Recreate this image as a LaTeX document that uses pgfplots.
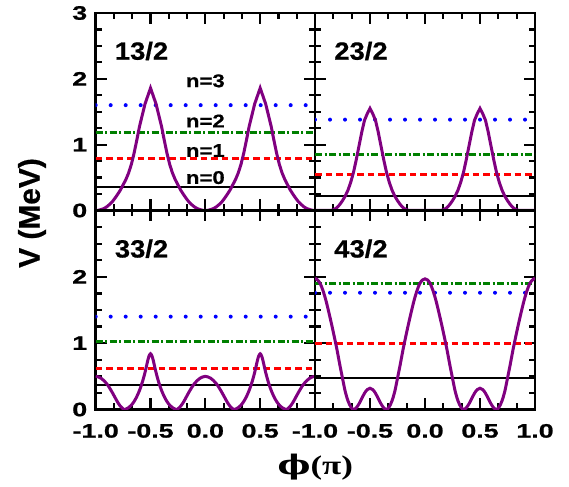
\documentclass[border=0pt]{standalone}
\usepackage{fontspec}
\setmainfont{Liberation Sans}
\newfontfamily\tickfont[FakeStretch=1.38,FakeBold=1]{Liberation Sans}
\newfontfamily\labfont[FakeBold=0.6]{Liberation Sans}
\newfontfamily\serifb{Liberation Serif}
\newfontfamily\dvserif{DejaVu Serif}
\usepackage{pgfplots}
\pgfplotsset{compat=1.18}
\definecolor{vpurple}{RGB}{128,0,128}
\definecolor{vgreen}{RGB}{0,128,0}
\definecolor{vred}{RGB}{255,0,0}
\definecolor{vblue}{RGB}{0,0,255}
\pgfplotsset{
 panel/.style={
  scale only axis, xmin=-1, xmax=1, ymin=0, ymax=3,
  axis line style={line width=2.6bp},
  tick style={line width=2.2bp, black},
  major tick length=11bp, minor tick length=6bp,
  tick align=inside, xtick pos=both, ytick pos=both,
  xtick={-1,-0.5,0,0.5,1}, ytick={0,1,2,3},
  minor x tick num=2, minor y tick num=3,
  tick label style={font=\tickfont\bfseries\fontsize{19.5}{19.5}\selectfont},
  yticklabel style={xshift=-5bp},
  xticklabel style={yshift=-11bp},
 },
 n0/.style={black, line width=2.2bp},
 n1/.style={vred, line width=3bp, dash pattern=on 6.5bp off 4bp},
 n2/.style={vgreen, line width=2.8bp, dash pattern=on 7bp off 2.5bp on 2bp off 2.5bp},
 n3/.style={vblue, line width=4bp, line cap=round, dash pattern=on 0bp off 15bp},
 pot/.style={vpurple, line width=3bp},
}
\newcommand{\plab}[1]{\node at (rel axis cs:0.209,0.808) {\labfont\bfseries\fontsize{25}{25}\selectfont\scalebox{1.1}[1]{#1}};}
\newcommand{\nlab}[2]{\node at (axis cs:0,#1) {\labfont\bfseries\fontsize{18.5}{18.5}\selectfont\scalebox{1.2}[1]{#2}};}
\begin{document}
\begin{tikzpicture}
\path[use as bounding box] (0,0) rectangle (569bp,487bp);
% top left 13/2
\begin{axis}[panel, at={(95.7bp,276.5bp)}, anchor=south west, width=219.3bp, height=197.5bp,
  xticklabels={}, yticklabels={0,1,2,3}]
\addplot[n0] coordinates {(-1,0.36) (1,0.36)};
\addplot[n1] coordinates {(-1,0.79) (1,0.79)};
\addplot[n2] coordinates {(-1,1.19) (1,1.19)};
\addplot[n3] coordinates {(-1,1.60) (1,1.60)};
\addplot[pot] coordinates {
(-1,0) (-0.975,0.004) (-0.95,0.015) (-0.925,0.03) (-0.9,0.055) (-0.875,0.09) (-0.85,0.13) (-0.825,0.185) (-0.8,0.245) (-0.775,0.31) (-0.75,0.39) (-0.725,0.47) (-0.7,0.57) (-0.675,0.70) (-0.65,0.87) (-0.625,1.07) (-0.6,1.28) (-0.575,1.45) (-0.55,1.62) (-0.525,1.74) (-0.5,1.86)
(-0.475,1.74) (-0.45,1.62) (-0.425,1.45) (-0.4,1.28) (-0.375,1.07) (-0.35,0.87) (-0.325,0.70) (-0.3,0.57) (-0.275,0.47) (-0.25,0.39) (-0.225,0.31) (-0.2,0.245) (-0.175,0.185) (-0.15,0.13) (-0.125,0.09) (-0.1,0.055) (-0.075,0.03) (-0.05,0.015) (-0.025,0.004) (0,0)
(0.025,0.004) (0.05,0.015) (0.075,0.03) (0.1,0.055) (0.125,0.09) (0.15,0.13) (0.175,0.185) (0.2,0.245) (0.225,0.31) (0.25,0.39) (0.275,0.47) (0.3,0.57) (0.325,0.70) (0.35,0.87) (0.375,1.07) (0.4,1.28) (0.425,1.45) (0.45,1.62) (0.475,1.74) (0.5,1.86)
(0.525,1.74) (0.55,1.62) (0.575,1.45) (0.6,1.28) (0.625,1.07) (0.65,0.87) (0.675,0.70) (0.7,0.57) (0.725,0.47) (0.75,0.39) (0.775,0.31) (0.8,0.245) (0.825,0.185) (0.85,0.13) (0.875,0.09) (0.9,0.055) (0.925,0.03) (0.95,0.015) (0.975,0.004) (1,0)};
\plab{13/2}
\nlab{1.97}{n=3}
\nlab{1.36}{n=2}
\nlab{0.91}{n=1}
\nlab{0.50}{n=0}
\end{axis}
% top right 23/2
\begin{axis}[panel, at={(315bp,276.5bp)}, anchor=south west, width=220bp, height=197.5bp,
  xticklabels={}, yticklabels={}]
\addplot[n0] coordinates {(-1,0.22) (1,0.22)};
\addplot[n1] coordinates {(-1,0.55) (1,0.55)};
\addplot[n2] coordinates {(-1,0.85) (1,0.85)};
\addplot[n3] coordinates {(-1,1.38) (1,1.38)};
\addplot[pot] coordinates {
(-1,0) (-0.875,0) (-0.85,0.003) (-0.825,0.015) (-0.8,0.045) (-0.775,0.09) (-0.75,0.15) (-0.725,0.22) (-0.7,0.31) (-0.675,0.43) (-0.65,0.58) (-0.625,0.77) (-0.6,0.98) (-0.575,1.19) (-0.55,1.37) (-0.525,1.47) (-0.5,1.55)
(-0.475,1.47) (-0.45,1.37) (-0.425,1.19) (-0.4,0.98) (-0.375,0.77) (-0.35,0.58) (-0.325,0.43) (-0.3,0.31) (-0.275,0.22) (-0.25,0.15) (-0.225,0.09) (-0.2,0.045) (-0.175,0.015) (-0.15,0.003) (-0.125,0)
(0.125,0) (0.15,0.003) (0.175,0.015) (0.2,0.045) (0.225,0.09) (0.25,0.15) (0.275,0.22) (0.3,0.31) (0.325,0.43) (0.35,0.58) (0.375,0.77) (0.4,0.98) (0.425,1.19) (0.45,1.37) (0.475,1.47) (0.5,1.55)
(0.525,1.47) (0.55,1.37) (0.575,1.19) (0.6,0.98) (0.625,0.77) (0.65,0.58) (0.675,0.43) (0.7,0.31) (0.725,0.22) (0.75,0.15) (0.775,0.09) (0.8,0.045) (0.825,0.015) (0.85,0.003) (0.875,0) (1,0)};
\plab{23/2}
\end{axis}
% bottom left 33/2
\begin{axis}[panel, at={(95.7bp,77.5bp)}, anchor=south west, width=219.3bp, height=199bp,
  xticklabels={-1.0,-0.5,0.0,0.5,{}}, yticklabels={0,1,2,{}}]
\addplot[n0] coordinates {(-1,0.37) (1,0.37)};
\addplot[n1] coordinates {(-1,0.62) (1,0.62)};
\addplot[n2] coordinates {(-1,1.02) (1,1.02)};
\addplot[n3] coordinates {(-1,1.40) (1,1.40)};
\addplot[pot, smooth] coordinates {
(-1,0.50) (-0.975,0.49) (-0.95,0.47) (-0.925,0.435) (-0.9,0.39) (-0.875,0.33) (-0.85,0.26) (-0.825,0.185) (-0.8,0.11) (-0.775,0.05) (-0.75,0.01) (-0.74,0) (-0.725,0.006) (-0.7,0.028) (-0.675,0.065) (-0.65,0.12) (-0.625,0.195) (-0.6,0.29) (-0.575,0.41) (-0.55,0.56) (-0.525,0.74) (-0.5125,0.81) (-0.5,0.84)
(-0.4875,0.81) (-0.475,0.74) (-0.45,0.56) (-0.425,0.41) (-0.4,0.29) (-0.375,0.195) (-0.35,0.12) (-0.325,0.065) (-0.3,0.028) (-0.275,0.006) (-0.26,0) (-0.25,0.01) (-0.225,0.05) (-0.2,0.11) (-0.175,0.185) (-0.15,0.26) (-0.125,0.33) (-0.1,0.39) (-0.075,0.435) (-0.05,0.47) (-0.025,0.49) (0,0.50)
(0.025,0.49) (0.05,0.47) (0.075,0.435) (0.1,0.39) (0.125,0.33) (0.15,0.26) (0.175,0.185) (0.2,0.11) (0.225,0.05) (0.25,0.01) (0.26,0) (0.275,0.006) (0.3,0.028) (0.325,0.065) (0.35,0.12) (0.375,0.195) (0.4,0.29) (0.425,0.41) (0.45,0.56) (0.475,0.74) (0.4875,0.81) (0.5,0.84)
(0.5125,0.81) (0.525,0.74) (0.55,0.56) (0.575,0.41) (0.6,0.29) (0.625,0.195) (0.65,0.12) (0.675,0.065) (0.7,0.028) (0.725,0.006) (0.74,0) (0.75,0.01) (0.775,0.05) (0.8,0.11) (0.825,0.185) (0.85,0.26) (0.875,0.33) (0.9,0.39) (0.925,0.435) (0.95,0.47) (0.975,0.49) (1,0.50)};
\plab{33/2}
\end{axis}
% bottom right 43/2
\begin{axis}[panel, at={(315bp,77.5bp)}, anchor=south west, width=220bp, height=199bp,
  xticklabels={-1.0,-0.5,0.0,0.5,1.0}, yticklabels={}]
\addplot[n0] coordinates {(-1,0.47) (1,0.47)};
\addplot[n1] coordinates {(-1,1.00) (1,1.00)};
\addplot[n2] coordinates {(-1,1.90) (1,1.90)};
\addplot[n3] coordinates {(-1,1.76) (1,1.76)};
\addplot[pot, smooth] coordinates {
(-1,1.98) (-0.975,1.95) (-0.95,1.89) (-0.925,1.78) (-0.9,1.64) (-0.875,1.47) (-0.85,1.29) (-0.825,1.10) (-0.8,0.90) (-0.775,0.68) (-0.75,0.47) (-0.725,0.27) (-0.7,0.13) (-0.675,0.04) (-0.65,0) (-0.625,0.025) (-0.6,0.085) (-0.575,0.165) (-0.55,0.245) (-0.525,0.30) (-0.5,0.32)
(-0.475,0.30) (-0.45,0.245) (-0.425,0.165) (-0.4,0.085) (-0.375,0.025) (-0.35,0) (-0.325,0.04) (-0.3,0.13) (-0.275,0.27) (-0.25,0.47) (-0.225,0.68) (-0.2,0.90) (-0.175,1.10) (-0.15,1.29) (-0.125,1.47) (-0.1,1.64) (-0.075,1.78) (-0.05,1.89) (-0.025,1.95) (0,1.97)
(0.025,1.95) (0.05,1.89) (0.075,1.78) (0.1,1.64) (0.125,1.47) (0.15,1.29) (0.175,1.10) (0.2,0.90) (0.225,0.68) (0.25,0.47) (0.275,0.27) (0.3,0.13) (0.325,0.04) (0.35,0) (0.375,0.025) (0.4,0.085) (0.425,0.165) (0.45,0.245) (0.475,0.30) (0.5,0.32)
(0.525,0.30) (0.55,0.245) (0.575,0.165) (0.6,0.085) (0.625,0.025) (0.65,0) (0.675,0.04) (0.7,0.13) (0.725,0.27) (0.75,0.47) (0.775,0.68) (0.8,0.90) (0.825,1.10) (0.85,1.29) (0.875,1.47) (0.9,1.64) (0.925,1.78) (0.95,1.89) (0.975,1.95) (1,1.98)};
\plab{43/2}
\end{axis}
\node[rotate=90] at (32bp,274bp) {\labfont\bfseries\fontsize{30}{30}\selectfont V (MeV)};
\node at (315.3bp,20bp) {\fontsize{27}{27}\selectfont\scalebox{1.3}[1]{{\dvserif\bfseries ϕ}{\serifb\bfseries (π)}}};
\end{tikzpicture}
\end{document}
